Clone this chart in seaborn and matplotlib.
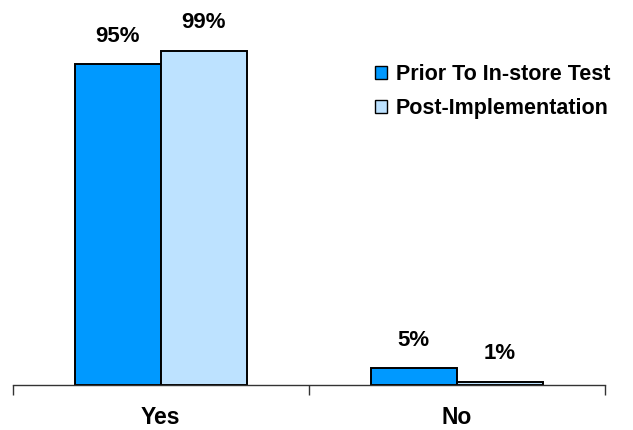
import matplotlib
matplotlib.use("Agg")
import matplotlib.pyplot as plt
import seaborn as sns
import pandas as pd
from matplotlib.patches import Patch

categories = ["Yes", "No"]
series_names = ["Prior To In-store Test", "Post-Implementation"]
prior_values = [95, 5]
post_values = [99, 1]
value_labels_prior = ["95%", "5%"]
value_labels_post = ["99%", "1%"]

colors = ["#0099FF", "#BDE2FF"]

df = pd.DataFrame({
    "category": categories * 2,
    "series": [series_names[0]] * 2 + [series_names[1]] * 2,
    "value": prior_values + post_values,
})

sns.set_style("white")
plt.rcParams["font.family"] = ["Liberation Sans", "DejaVu Sans"]
plt.rcParams["text.color"] = "black"
plt.rcParams["xtick.color"] = "black"
plt.rcParams["xtick.labelcolor"] = "black"

fig = plt.figure(figsize=(6.33, 4.3), dpi=100)
ax = fig.add_axes([12.7 / 633, 1 - 385 / 430, (604.7 - 12.7) / 633, (385 - 47.3) / 430])

sns.barplot(data=df, x="category", y="value", hue="series", order=categories,
            hue_order=series_names, palette=colors, width=0.58, gap=0,
            edgecolor="black", linewidth=1.4, saturation=1, ax=ax, legend=False)

ax.set_xlim(-0.5, 1.5)
ax.set_ylim(0, 100)
ax.set_xlabel("")
ax.set_ylabel("")
ax.set_yticks([])
for s in ["top", "right", "left"]:
    ax.spines[s].set_visible(False)
ax.spines["bottom"].set_color("#333333")
ax.spines["bottom"].set_linewidth(1.0)

ax.set_xticks([0, 1])
ax.set_xticklabels(categories, fontsize=16.5, fontweight="bold", color="black")
ax.tick_params(axis="x", which="major", length=0, pad=15)
ax.set_xticks([-0.5, 0.5, 1.5], minor=True)
ax.tick_params(axis="x", which="minor", length=7.5, width=1.0, color="#333333",
               direction="out", bottom=True)

for container, labs in zip(ax.containers, [value_labels_prior, value_labels_post]):
    ax.bar_label(container, labels=labs, padding=12.5, fontsize=16, fontweight="bold",
                 color="black")

handles = [Patch(facecolor=c, edgecolor="black", linewidth=1.0) for c in colors]
fig.legend(handles, series_names, loc="upper left", bbox_to_anchor=(371 / 633, 1 - 60 / 430),
           frameon=False, handlelength=0.56, handleheight=0.56, handletextpad=0.4,
           labelspacing=0.6, borderaxespad=0, borderpad=0.2,
           prop={"size": 15.5, "weight": "bold"})

fig.savefig("out.png", dpi=100)
